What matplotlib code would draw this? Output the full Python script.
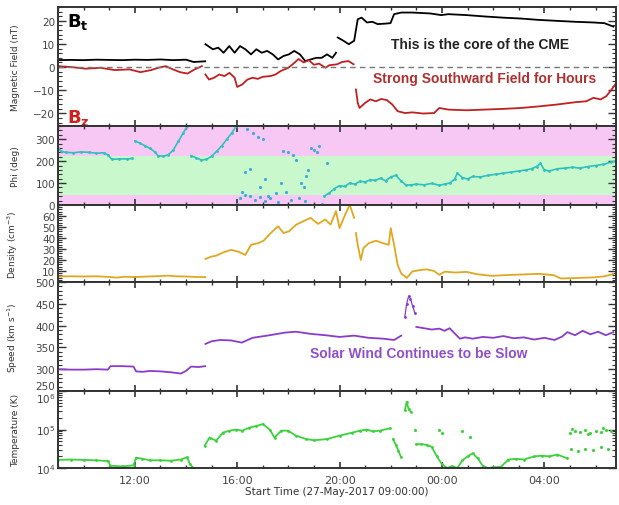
import numpy as np
import matplotlib
matplotlib.use("Agg")
import matplotlib.pyplot as plt
from matplotlib.ticker import MultipleLocator, FixedLocator, LogLocator, NullFormatter, FuncFormatter

# ---------------- data (hours since 27-May-2017 09:00) ----------------
bt_t1 = [0, 0.5, 1, 1.5, 2, 2.5, 3, 3.5, 4, 4.5, 5, 5.3, 5.6, 5.75]
bt_v1 = [3.0, 3.1, 3.0, 3.2, 3.1, 3.0, 3.2, 3.1, 3.3, 3.0, 3.2, 2.2, 2.4, 2.5]
bt_t2 = [5.76, 6.05, 6.26, 6.47, 6.69, 6.9, 7.11, 7.32, 7.54, 7.75, 7.96, 8.17, 8.39, 8.6,
         8.81, 9.02, 9.23, 9.45, 9.66, 9.87, 10.09, 10.3, 10.51, 10.72, 10.86]
bt_v2 = [9.9, 7.7, 8.4, 6.2, 9.1, 6.2, 9.1, 7.7, 5.5, 7.7, 6.2, 7.0, 5.5, 3.3,
         4.8, 5.5, 7.0, 5.5, 2.6, 3.3, 4.0, 4.0, 5.5, 4.0, 6.2]
bt_t3 = [10.93, 11.15, 11.36, 11.57, 11.71, 11.86, 12.07, 12.28, 12.49, 12.78, 12.99, 13.13,
         13.41, 13.84, 14.55, 14.97, 15.25, 15.96, 16.67, 17.38, 18.09, 18.8, 19.5, 20.21,
         20.92, 21.35, 21.7]
bt_v3 = [12.8, 11.4, 9.9, 11.4, 20.7, 21.4, 19.3, 19.6, 18.6, 18.8, 19.0, 22.9,
         23.6, 23.6, 23.2, 22.5, 22.9, 22.5, 21.9, 21.4, 21.0, 20.4, 20.0, 19.6,
         19.3, 19.0, 17.5]

bz_t1 = [0, 0.52, 1.09, 1.66, 2.22, 2.79, 3.22, 3.64, 3.92, 4.21, 4.49, 4.77, 5.06, 5.34, 5.62]
bz_v1 = [0.4, 0.0, -0.7, -0.3, -1.3, -1.0, -2.2, -1.3, -0.3, 0.4, -1.0, -2.2, -2.8, -1.0, 0.4]
bz_t2 = [5.76, 5.9, 6.1, 6.3, 6.5, 6.7, 6.9, 7.0, 7.2, 7.4, 7.6, 7.8, 8.0, 8.3, 8.5, 8.7,
         9.0, 9.2, 9.4, 9.6, 9.8, 10.0, 10.2, 10.45, 10.6, 10.9, 11.1, 11.35, 11.55]
bz_v2 = [-3.2, -5.4, -4.6, -3.2, -3.9, -2.5, -4.6, -8.6, -7.5, -5.4, -4.6, -5.1, -4.2, -3.9,
         -3.2, -1.7, -0.3, 1.5, 3.5, 2.0, 3.0, 1.0, 1.5, -0.3, 0.8, 1.2, 2.2, 2.6, 1.2]
bz_t3 = [11.64, 11.71, 11.78, 12.0, 12.2, 12.42, 12.63, 12.85, 13.06, 13.27, 13.56, 13.84,
         14.26, 14.69, 14.9, 15.25, 15.96, 16.67, 17.38, 18.09, 18.8, 19.5, 20.21, 20.64,
         20.92, 21.2, 21.42, 21.63, 21.77]
bz_v3 = [-9.7, -15.5, -17.7, -15.5, -14.0, -14.8, -13.8, -14.3, -16.2, -19.1, -19.9, -19.6,
         -20.1, -19.9, -17.7, -18.4, -18.7, -18.4, -18.1, -17.7, -17.0, -16.2, -15.2, -14.8,
         -13.3, -14.0, -12.6, -9.7, -7.5]

phi_tA = [0, 0.1, 0.3, 0.6, 0.9, 1.2, 1.5, 1.8, 1.95, 2.1, 2.4, 2.7, 2.9]
phi_vA = [262, 245, 240, 238, 242, 240, 236, 238, 228, 208, 210, 210, 212]
phi_tB = [3.0, 3.2, 3.4, 3.6, 3.8, 3.9, 4.1, 4.3, 4.5, 4.7, 4.9, 5.05]
phi_vB = [292, 282, 270, 258, 240, 225, 222, 228, 250, 290, 330, 358]
phi_tC = [5.2, 5.4, 5.6, 5.8, 6.0, 6.2, 6.4, 6.6, 6.8, 6.95]
phi_vC = [225, 215, 205, 208, 222, 245, 270, 300, 330, 358]
phi_ts = [7.0, 7.1, 7.2, 7.3, 7.5, 7.7, 7.9, 8.1, 8.3, 8.5, 8.6, 7.4, 7.6, 7.8, 8.0, 8.8, 9.0,
          9.2, 9.3, 7.5, 8.1, 9.5, 9.6, 9.7, 9.75, 9.9, 10.0, 10.1, 10.2, 9.4, 9.65, 10.3,
          7.3, 7.9, 8.7, 10.5, 8.2, 8.9, 9.1]
phi_vs = [5, 30, 60, 45, 40, 25, 35, 20, 30, 55, 15, 345, 330, 310, 300, 245, 240,
          230, 205, 165, 120, 100, 80, 130, 160, 260, 250, 240, 270, 30, 20, 5,
          150, 80, 100, 190, 40, 60, 25]
phi_tD = [10.4, 10.6, 10.8, 11.0, 11.2, 11.4, 11.6, 11.8, 12.0, 12.2, 12.4, 12.6, 12.8, 13.0,
          13.2, 13.4, 13.6, 13.8, 14.0, 14.3, 14.6, 14.9, 15.1, 15.3, 15.5, 15.6, 15.8, 16.0,
          16.2, 16.5, 16.8, 17.1, 17.4, 17.7, 18.0, 18.3, 18.5, 18.7, 18.85, 19.0, 19.2, 19.5,
          19.8, 20.1, 20.4, 20.7, 21.0, 21.3, 21.6, 21.8]
phi_vD = [40, 55, 75, 88, 85, 100, 95, 108, 105, 115, 112, 122, 110, 128,
          135, 110, 90, 92, 95, 92, 98, 90, 95, 100, 118, 145, 125, 118,
          130, 128, 135, 140, 145, 150, 155, 160, 165, 175, 190, 160, 155, 165,
          168, 172, 168, 175, 180, 185, 195, 200]

den_t1 = [0, 0.5, 1.0, 1.5, 2.0, 2.3, 2.6, 3.0, 3.5, 4.0, 4.3, 4.6, 5.0, 5.4, 5.75]
den_v1 = [5.0, 5.2, 5.0, 5.2, 4.6, 4.0, 4.8, 4.5, 5.0, 5.4, 5.8, 5.2, 5.0, 4.6, 4.4]
den_t2 = [5.76, 5.98, 6.19, 6.47, 6.76, 7.04, 7.32, 7.54, 7.82, 8.03, 8.31, 8.6, 8.81, 9.02,
          9.31, 9.59, 9.87, 10.16, 10.44, 10.65, 10.86, 11.0, 11.22, 11.4, 11.57]
den_v2 = [20.9, 23.0, 24.0, 27.0, 29.2, 27.6, 24.6, 33.8, 35.3, 37.5, 44.5, 50.7, 44.5, 46.0,
          52.2, 55.3, 58.3, 52.8, 56.8, 52.2, 64.5, 49.0, 61.4, 70.0, 58.3]
den_t3 = [11.64, 11.71, 11.83, 11.93, 12.14, 12.42, 12.7, 12.92, 13.0, 13.13, 13.27, 13.41,
          13.63, 13.84, 14.12, 14.4, 14.69, 14.9, 15.11, 15.54, 15.96, 16.39, 16.95, 17.52,
          18.09, 18.8, 19.36, 19.65, 20.21, 20.92, 21.35, 21.7]
den_v3 = [44.5, 33.8, 20.0, 30.7, 35.3, 37.5, 35.3, 33.8, 49.0, 33.8, 15.4, 7.7,
          3.7, 9.5, 10.8, 11.5, 10.0, 6.5, 9.4, 8.6, 9.2, 7.0, 5.6, 6.3,
          6.8, 7.4, 6.2, 3.2, 3.6, 4.2, 5.2, 7.2]

spd_t1 = [0, 0.5, 1.0, 1.5, 1.95, 2.05, 2.5, 2.95, 3.05, 3.3, 3.6, 4.0, 4.4, 4.8, 5.0, 5.2, 5.5, 5.75]
spd_v1 = [300, 299, 299, 300, 299, 307, 307, 306, 295, 294, 296, 295, 293, 290, 296, 306, 305, 307]
spd_t2 = [5.76, 6.0, 6.33, 6.76, 7.18, 7.6, 8.17, 8.88, 9.3, 9.87, 10.44, 11.0, 11.57, 12.14,
          12.7, 13.13, 13.41]
spd_v2 = [358, 364, 367, 366, 361, 372, 377, 384, 386, 381, 378, 374, 377, 372,
          370, 367, 377]
spd_ts = [13.55, 13.62, 13.7, 13.77, 13.85, 13.95]
spd_vs = [420, 450, 468, 462, 445, 428]
spd_t3 = [14.0, 14.3, 14.6, 14.9, 15.1, 15.3, 15.5, 15.7, 15.9, 16.2, 16.6, 17.0, 17.4, 17.8,
          18.2, 18.6, 19.0, 19.4, 19.7, 19.9, 20.2, 20.5, 20.8, 21.1, 21.4, 21.7]
spd_v3 = [397, 394, 391, 393, 388, 394, 382, 370, 373, 370, 374, 372, 376, 371,
          373, 368, 372, 367, 375, 385, 378, 388, 380, 386, 378, 385]

tmp_t1 = [0, 0.5, 1.0, 1.5, 1.95, 2.05, 2.5, 2.95, 3.05, 3.3, 3.6, 4.0, 4.4, 4.8, 5.05, 5.15, 5.3]
tmp_l1 = [4.21, 4.22, 4.21, 4.20, 4.18, 4.06, 4.04, 4.07, 4.27, 4.24, 4.20, 4.20, 4.19, 4.22,
          4.28, 4.10, 4.00]
tmp_t2 = [5.73, 5.92, 6.18, 6.44, 6.7, 6.96, 7.2, 7.48, 7.74, 8.0, 8.27, 8.46, 8.72, 8.98,
          9.3, 9.7, 10.0, 10.5, 11.0, 11.5, 11.8, 12.05, 12.3, 12.57, 12.96]
tmp_l2 = [4.58, 4.79, 4.71, 4.92, 4.97, 5.0, 4.97, 5.05, 5.09, 5.14, 5.0, 4.79, 4.97, 4.97,
          4.84, 4.75, 4.72, 4.75, 4.84, 4.92, 4.97, 5.0, 4.95, 4.97, 5.03]
tmp_t3 = [13.09, 13.2, 13.3, 13.4]
tmp_l3 = [4.75, 4.6, 4.45, 4.28]
tmp_t4 = [13.55, 13.62, 13.7, 13.8]
tmp_l4 = [5.5, 5.72, 5.52, 5.45]
tmp_t5 = [14.0, 14.2, 14.4, 14.6, 14.8, 15.0, 15.2, 15.4, 15.6, 15.8, 16.0, 16.2, 16.4, 16.6,
          16.8, 17.0, 17.3, 17.6, 17.9, 18.2, 18.6, 18.9, 19.2, 19.5, 19.9]
tmp_l5 = [4.62, 4.62, 4.60, 4.55, 4.30, 4.10, 4.00, 4.05, 4.00, 4.20, 4.30, 4.38, 4.25, 4.05,
          4.00, 4.02, 4.03, 4.22, 4.24, 4.22, 4.30, 4.32, 4.30, 4.35, 4.25]
tmp_ts = [13.93, 14.9, 15.0, 15.8, 16.1, 20.0, 20.2, 20.4, 20.6, 20.8, 21.0, 21.2, 21.4, 21.6,
          21.8, 20.05, 20.3, 20.6, 20.9, 21.2, 21.5, 21.8, 20.1, 20.7, 21.3]
tmp_ls = [4.98, 5.0, 4.9, 4.95, 4.8, 4.9, 4.96, 4.93, 4.98, 4.92, 4.97, 4.94, 4.99, 4.95,
          5.0, 4.5, 4.45, 4.5, 4.47, 4.55, 4.5, 4.52, 5.02, 4.88, 5.03]

tick_pos = [3, 7, 11, 15, 19]
tick_lab = ["12:00", "16:00", "20:00", "00:00", "04:00"]

# ---------------- figure ----------------
W, H = 619, 506
fig = plt.figure(figsize=(W / 100, H / 100), dpi=100)

def frac(top, bot):
    return [58 / W, 1 - bot / H, (616 - 58) / W, (bot - top) / H]

edges = [8, 127, 206, 283, 392, 469]
axes = [fig.add_axes(frac(edges[i], edges[i + 1])) for i in range(5)]
ax1, ax2, ax3, ax4, ax5 = axes

XMAX = 21.8
for ax in axes:
    ax.set_xlim(0, XMAX)
    ax.xaxis.set_major_locator(FixedLocator(tick_pos))
    ax.xaxis.set_minor_locator(MultipleLocator(1))
    ax.tick_params(axis="both", which="both", direction="in", top=True, right=True,
                   colors="#333333", labelsize=7.5, labelcolor="#444444")
    ax.tick_params(axis="x", which="major", length=4, width=1.2)
    ax.tick_params(axis="x", which="minor", length=2.5, width=1.0)
    ax.tick_params(axis="y", which="major", length=6, width=1.0, pad=2)
    ax.tick_params(axis="y", which="minor", length=3, width=0.8)
    for s in ax.spines.values():
        s.set_color("#333333")
        s.set_linewidth(1.4)
    if ax is not ax5:
        ax.set_xticklabels([])
    ax.yaxis.set_label_coords(-0.068, 0.5)

lkw = dict(lw=1.3)

# Panel 1: magnetic field
ax1.plot(bt_t1, bt_v1, color="black", **lkw)
ax1.plot(bt_t2, bt_v2, color="black", **lkw)
ax1.plot(bt_t3, bt_v3, color="black", **lkw)
ax1.plot(bz_t1, bz_v1, color="#c02020", **lkw)
ax1.plot(bz_t2, bz_v2, color="#c02020", **lkw)
ax1.plot(bz_t3, bz_v3, color="#c02020", **lkw)
ax1.axhline(0, color="#777777", lw=1.0, ls=(0, (4, 3)))
ax1.set_ylim(-25.5, 26)
ax1.yaxis.set_major_locator(MultipleLocator(10))
ax1.yaxis.set_minor_locator(MultipleLocator(2))
ax1.set_ylabel("Magnetic Field (nT)", fontsize=6.5, color="#333333")
ax1.text(0.35, 19.8, r"$\mathbf{B_t}$", fontsize=13, color="black", va="center", ha="left")
ax1.text(0.35, -21.5, r"$\mathbf{B_z}$", fontsize=13, color="#d02020", va="center", ha="left",
         clip_on=False)
ax1.text(16.5, 9.9, "This is the core of the CME", fontsize=10, fontweight="bold",
         family="Liberation Sans", color="#222222", ha="center", va="center")
ax1.text(16.65, -4.7, "Strong Southward Field for Hours", fontsize=10, fontweight="bold",
         family="Liberation Sans", color="#b03030", ha="center", va="center")

# Panel 2: phi
ax2.axhspan(0, 45, color="#f8c8f4", lw=0)
ax2.axhspan(45, 225, color="#c8f8cc", lw=0)
ax2.axhspan(225, 360, color="#f8c8f4", lw=0)
pc = "#30c0c0"
for tt, vv in ((phi_tA, phi_vA), (phi_tB, phi_vB), (phi_tC, phi_vC), (phi_tD, phi_vD)):
    ax2.plot(tt, vv, color=pc, lw=1.2, marker=".", ms=2)
ax2.plot(phi_ts, phi_vs, ls="none", marker=".", ms=2.5, color="#40a8e0")
ax2.set_ylim(0, 360)
ax2.yaxis.set_major_locator(FixedLocator([0, 100, 200, 300]))
ax2.yaxis.set_minor_locator(MultipleLocator(20))
ax2.set_ylabel("Phi (deg)", fontsize=6.5, color="#333333")

# Panel 3: density
dc = "#e0a820"
for tt, vv in ((den_t1, den_v1), (den_t2, den_v2), (den_t3, den_v3)):
    ax3.plot(tt, vv, color=dc, **lkw)
ax3.set_ylim(0, 70)
ax3.yaxis.set_major_locator(FixedLocator([0, 10, 20, 30, 40, 50, 60]))
ax3.yaxis.set_major_formatter(FuncFormatter(lambda v, p: "" if v == 0 else f"{v:.0f}"))
ax3.yaxis.set_minor_locator(MultipleLocator(2))
ax3.set_ylabel("Density (cm$^{-3}$)", fontsize=6.5, color="#333333")

# Panel 4: speed
sc = "#8a3cc8"
for tt, vv in ((spd_t1, spd_v1), (spd_t2, spd_v2), (spd_t3, spd_v3)):
    ax4.plot(tt, vv, color=sc, **lkw)
ax4.plot(spd_ts, spd_vs, color=sc, lw=0.9, marker=".", ms=2)
ax4.set_ylim(250, 500)
ax4.yaxis.set_major_locator(FixedLocator([250, 300, 350, 400, 450, 500]))
ax4.yaxis.set_minor_locator(MultipleLocator(10))
ax4.set_ylabel("Speed (km s$^{-1}$)", fontsize=6.5, color="#333333")
ax4.text(14.1, 338, "Solar Wind Continues to be Slow", fontsize=10, fontweight="bold",
         family="Liberation Sans", color="#9050c8", ha="center", va="center")

# Panel 5: temperature
gc = "#3cd23c"
for tt, ll in ((tmp_t1, tmp_l1), (tmp_t2, tmp_l2), (tmp_t3, tmp_l3), (tmp_t4, tmp_l4),
               (tmp_t5, tmp_l5)):
    ax5.plot(tt, 10 ** np.array(ll), color=gc, lw=1.3, marker=".", ms=2)
ax5.plot(tmp_ts, 10 ** np.array(tmp_ls), ls="none", marker=".", ms=2.5, color=gc)
ax5.set_yscale("log")
ax5.set_ylim(1e4, 1e6)
ax5.yaxis.set_major_locator(FixedLocator([1e4, 1e5, 1e6]))
ax5.yaxis.set_minor_locator(LogLocator(base=10, subs=np.arange(2, 10), numticks=10))
ax5.yaxis.set_minor_formatter(NullFormatter())
ax5.set_ylabel("Temperature (K)", fontsize=6.5, color="#333333")
ax5.set_xticklabels(tick_lab)
ax5.tick_params(axis="x", labelsize=8, pad=5)
ax5.set_xlabel("Start Time (27-May-2017 09:00:00)", fontsize=7.5, color="#333333", labelpad=1)

# keep stacked boundary labels from colliding
fig.canvas.draw()
ax4.yaxis.get_major_ticks()[0].label1.set_va("bottom")
ax5.yaxis.get_major_ticks()[-1].label1.set_va("top")

fig.savefig("out.png", dpi=100)
